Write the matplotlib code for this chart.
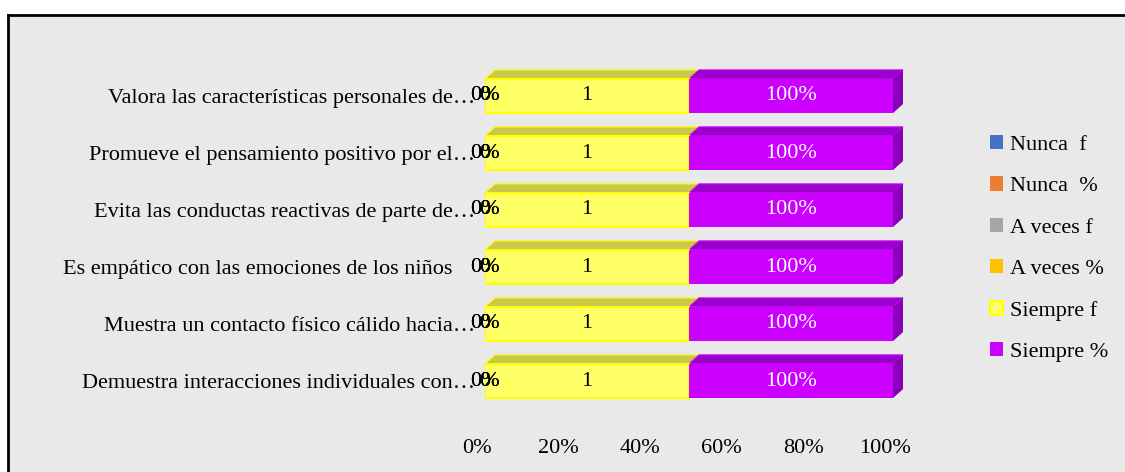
import numpy as np
import matplotlib
matplotlib.use("Agg")
import matplotlib.pyplot as plt
from matplotlib.patches import Rectangle, Polygon
from matplotlib.lines import Line2D
import matplotlib.transforms as mtransforms

plt.rcParams['font.family'] = ['Liberation Serif', 'DejaVu Serif']

# categories, bottom to top
categories = [
    "Demuestra interacciones individuales con…",
    "Muestra un contacto físico cálido hacia…",
    "Es empático con las emociones de los niños    ",
    "Evita las conductas reactivas de parte de…",
    "Promueve el pensamiento positivo por el…",
    "Valora las características personales de…",
]
series_names = ["Nunca  f", "Nunca  %", "A veces f", "A veces %", "Siempre f", "Siempre %"]
nunca_f = [0, 0, 0, 0, 0, 0]
nunca_p = [0, 0, 0, 0, 0, 0]
aveces_f = [0, 0, 0, 0, 0, 0]
aveces_p = [0, 0, 0, 0, 0, 0]
siempre_f = [1, 1, 1, 1, 1, 1]
siempre_p = [1.0, 1.0, 1.0, 1.0, 1.0, 1.0]
label_fmt = ["{:.0f}", "{:.0%}", "{:.0f}", "{:.0%}", "{:.0f}", "{:.0%}"]
xtick_vals = [0, 0.2, 0.4, 0.6, 0.8, 1.0]
xtick_labels = ["0%", "20%", "40%", "60%", "80%", "100%"]

face = ["#4472c4", "#ed7d31", "#a5a5a5", "#ffc000", "#ffff66", "#cc00ff"]
edge = ["#4472c4", "#ed7d31", "#a5a5a5", "#ffc000", "#ffff00", "#cc00ff"]
topc = ["#2f5597", "#c55a11", "#7f7f7f", "#bf9000", "#c8c84a", "#9900cc"]
sidec = ["#2f5597", "#c55a11", "#7f7f7f", "#bf9000", "#b3b300", "#8a00b8"]
txtc = ["black", "black", "black", "black", "black", "white"]
FS = 16

W, H = 1125, 472
fig = plt.figure(figsize=(W / 100, H / 100), dpi=100)
fig.patch.set_facecolor("white")

# textured-looking panel approximated as flat grey with frame on top/left
fig.patches.append(Rectangle((8 / W, 0), 1, 1 - 15 / H, transform=fig.transFigure,
                             facecolor="#e9e9e9", edgecolor="none", zorder=-10))
fig.lines.append(Line2D([8 / W, 1], [1 - 15 / H, 1 - 15 / H], transform=fig.transFigure,
                        color="black", lw=2, zorder=-5))
fig.lines.append(Line2D([8 / W, 8 / W], [0, 1 - 15 / H], transform=fig.transFigure,
                        color="black", lw=2, zorder=-5))

# axes in pixels: x 485..893, category spacing 57px
y0, y1 = -0.9, 5.6
px_per_cat = 57
ax_top = 96 - (y1 - 5) * px_per_cat
ax_h = (y1 - y0) * px_per_cat
ax = fig.add_axes([485 / W, (H - ax_top - ax_h) / H, 408 / W, ax_h / H])
ax.set_facecolor("none")
ax.set_xlim(0, 1)
ax.set_ylim(y0, y1)
for s in ax.spines.values():
    s.set_visible(False)

data = np.array([nunca_f, nunca_p, aveces_f, aveces_p, siempre_f, siempre_p], dtype=float)
norm = data / data.sum(axis=0)
y = np.arange(len(categories))
bh = 0.6
dx = 10 / 408
dy = 9 / px_per_cat

left = np.zeros(len(categories))
for i in range(len(series_names)):
    w = norm[i]
    ax.barh(y, w, left=left, height=bh, color=face[i],
            edgecolor=edge[i], linewidth=1.5 if i == 4 else 0, zorder=2)
    for j in range(len(categories)):
        if w[j] <= 0:
            continue
        l, r = left[j], left[j] + w[j]
        t, b = y[j] + bh / 2, y[j] - bh / 2
        ax.add_patch(Polygon([(l, t), (l + dx, t + dy), (r + dx, t + dy), (r, t)],
                             closed=True, facecolor=topc[i], edgecolor=edge[i],
                             linewidth=0.8, zorder=1.5, clip_on=False))
        if i == len(series_names) - 1 or np.all(norm[i + 1:, j] == 0):
            ax.add_patch(Polygon([(r, b), (r + dx, b + dy), (r + dx, t + dy), (r, t)],
                                 closed=True, facecolor=sidec[i], edgecolor="none",
                                 zorder=1.5, clip_on=False))
    left = left + w

# data labels
left = np.zeros(len(categories))
for i in range(len(series_names)):
    w = norm[i]
    for j in range(len(categories)):
        ax.text(left[j] + w[j] / 2, y[j], label_fmt[i].format(data[i, j]),
                ha="center", va="center", fontsize=FS, color=txtc[i], zorder=5)
    left = left + w

ax.set_yticks(y, categories)
ax.tick_params(axis="y", length=0, pad=7, labelsize=FS)
ax.set_xticks(xtick_vals, xtick_labels)
ax.tick_params(axis="x", length=0, pad=5, labelsize=FS)
off = mtransforms.ScaledTranslation(-8 / 100, 0, fig.dpi_scale_trans)
for lab in ax.get_xticklabels():
    lab.set_transform(lab.get_transform() + off)

handles = [Rectangle((0, 0), 1, 1, facecolor=face[i], edgecolor=edge[i],
                     linewidth=1.5 if i == 4 else 0) for i in range(len(series_names))]
fig.legend(handles, series_names, loc="upper left", bbox_to_anchor=(990 / W, 1 - 135 / H),
           frameon=False, fontsize=FS, handlelength=0.6, handleheight=0.6,
           handletextpad=0.3, labelspacing=0.97, borderaxespad=0, borderpad=0)

fig.savefig("out.png", dpi=100)
